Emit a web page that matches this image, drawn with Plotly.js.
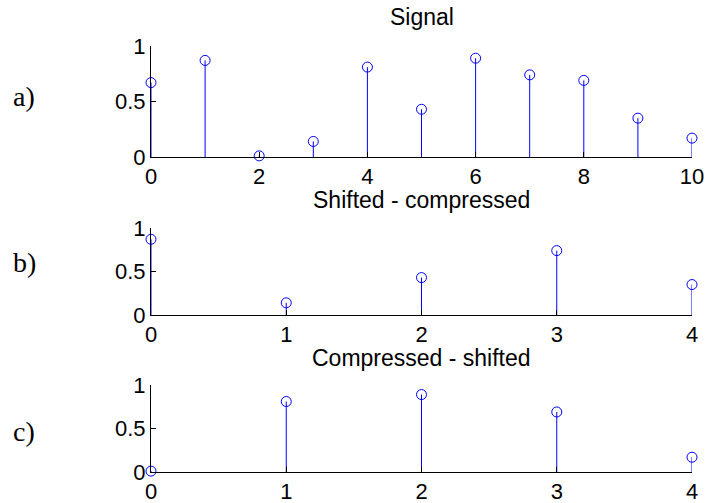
<!DOCTYPE html>
<html>
<head>
<meta charset="utf-8">
<script src="https://cdn.plot.ly/plotly-3.0.1.min.js"></script>
<style>html,body{margin:0;padding:0;background:#fff;}#chart{width:708px;height:503px;}</style>
</head>
<body>
<div id="chart"></div>
<script>
// Data
var signalN = [0, 1, 2, 3, 4, 5, 6, 7, 8, 9, 10];
var signalV = [0.67, 0.87, 0.01, 0.14, 0.81, 0.43, 0.89, 0.74, 0.69, 0.35, 0.17];
var shiftCompN = [0, 1, 2, 3, 4];
var shiftCompV = [0.87, 0.14, 0.43, 0.74, 0.35];
var compShiftN = [0, 1, 2, 3, 4];
var compShiftV = [0.01, 0.81, 0.89, 0.69, 0.17];
var titles = ["Signal", "Shifted - compressed", "Compressed - shifted"];
var panelLabels = ["a)", "b)", "c)"];
var topTicks = [0, 2, 4, 6, 8, 10];
var lowTicks = [0, 1, 2, 3, 4];
var yTicks = [0, 0.5, 1];
var yTickText = ["0", "0.5", "1"];

var W = 708, H = 503;
var blue = "#0000ff";

function stem(xs, ys, xa, ya) {
  return {
    type: "scatter", mode: "markers", x: xs, y: ys, xaxis: xa, yaxis: ya,
    cliponaxis: false, hoverinfo: "skip",
    marker: {symbol: "circle-open", size: 10, color: blue, line: {width: 1, color: blue}},
    error_y: {type: "data", symmetric: false, array: ys.map(function(){return 0;}), arrayminus: ys,
              color: blue, thickness: 1, width: 0}
  };
}

var data = [
  stem(signalN, signalV, "x", "y"),
  stem(shiftCompN, shiftCompV, "x2", "y2"),
  stem(compShiftN, compShiftV, "x3", "y3")
];

var xDom = [151 / W, 692 / W];
function py(pix) { return (H - pix) / H; }
var tickFont = {family: "Liberation Sans, Arial, sans-serif", size: 22, color: "#000"};

function xax(range, ticks, anchor) {
  return {domain: xDom, range: range, anchor: anchor, tickvals: ticks, ticktext: ticks.map(String),
    showgrid: false, zeroline: false, showline: true, linecolor: "#000", linewidth: 1,
    ticks: "inside", ticklen: 5, tickcolor: "#000", tickfont: tickFont, fixedrange: true};
}
function yax(dom, anchor) {
  return {domain: dom, range: [0, 1], anchor: anchor, tickvals: yTicks, ticktext: yTickText,
    showgrid: false, zeroline: false, showline: true, linecolor: "#000", linewidth: 1,
    ticks: "inside", ticklen: 5, tickcolor: "#000", tickfont: tickFont, fixedrange: true};
}

var titleY = [17, 200, 358];
var labelY = [96, 262, 431];
var annotations = [];
for (var i = 0; i < 3; i++) {
  annotations.push({text: titles[i], xref: "paper", yref: "paper", x: (xDom[0] + xDom[1]) / 2, y: py(titleY[i]),
    xanchor: "center", yanchor: "middle", showarrow: false,
    font: {family: "Liberation Sans, Arial, sans-serif", size: 23, color: "#000"}});
  annotations.push({text: panelLabels[i], xref: "paper", yref: "paper", x: 11 / W, y: py(labelY[i]),
    xanchor: "left", yanchor: "middle", showarrow: false,
    font: {family: "Liberation Serif, Times New Roman, serif", size: 28, color: "#000"}});
}

var layout = {
  width: W, height: H, margin: {l: 0, r: 0, t: 0, b: 0},
  paper_bgcolor: "#fff", plot_bgcolor: "#fff", showlegend: false,
  xaxis: xax([0, 10], topTicks, "y"),
  yaxis: yax([py(157), py(46)], "x"),
  xaxis2: xax([0, 4], lowTicks, "y2"),
  yaxis2: yax([py(315), py(228)], "x2"),
  xaxis3: xax([0, 4], lowTicks, "y3"),
  yaxis3: yax([py(472), py(385)], "x3"),
  annotations: annotations
};

Plotly.newPlot("chart", data, layout, {staticPlot: true, displayModeBar: false});
</script>
</body>
</html>
